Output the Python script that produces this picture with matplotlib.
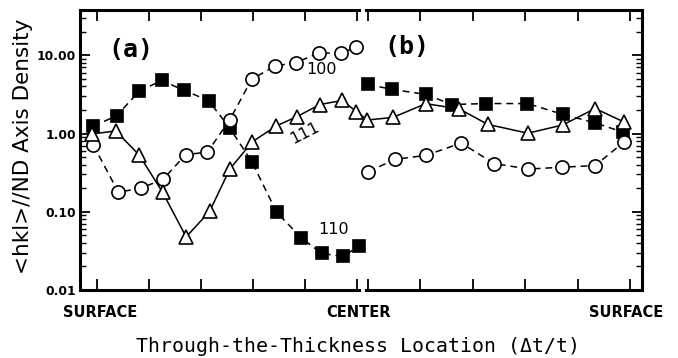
import matplotlib
matplotlib.use("Agg")
import matplotlib.pyplot as plt
from matplotlib.ticker import LogLocator, NullFormatter, FixedLocator
from matplotlib.lines import Line2D
import matplotlib.transforms as mtrans

# ---- data (x in through-thickness tick units; left panel (a), right panel (b)) ----
x_sq_a = [-0.06, 0.39, 0.82, 1.25, 1.68, 2.15, 2.56, 2.98, 3.46, 3.93, 4.32, 4.74, 5.04]
sq_a = [1.24, 1.70, 3.48, 4.77, 3.57, 2.64, 1.17, 0.437, 0.098, 0.0466, 0.0293, 0.0269, 0.0367]
x_tri_a = [-0.08, 0.37, 0.82, 1.27, 1.72, 2.17, 2.56, 2.99, 3.45, 3.84, 4.29, 4.71, 4.99]
tri_a = [0.99, 1.08, 0.53, 0.177, 0.0477, 0.101, 0.353, 0.785, 1.25, 1.64, 2.35, 2.65, 1.91]
x_circ_a = [-0.06, 0.42, 0.85, 1.28, 1.71, 2.13, 2.56, 2.98, 3.43, 3.82, 4.27, 4.69, 4.98]
circ_a = [0.71, 0.178, 0.20, 0.261, 0.537, 0.58, 1.51, 4.97, 7.31, 8.06, 10.7, 10.7, 12.6]

x_sq_b = [5.21, 5.67, 6.32, 6.82, 7.48, 8.27, 8.95, 9.57, 10.11]
sq_b = [4.25, 3.67, 3.17, 2.35, 2.42, 2.42, 1.76, 1.37, 1.04]
x_tri_b = [5.20, 5.69, 6.32, 6.96, 7.51, 8.28, 8.95, 9.57, 10.13]
tri_b = [1.49, 1.61, 2.41, 2.07, 1.31, 1.01, 1.29, 2.09, 1.40]
x_circ_b = [5.22, 5.73, 6.32, 7.00, 7.63, 8.29, 8.93, 9.57, 10.13]
circ_b = [0.327, 0.468, 0.526, 0.756, 0.414, 0.352, 0.371, 0.390, 0.785]

xticks_a = [0, 1, 2, 3, 4, 5]
xticks_b = [5.205, 6.213, 7.221, 8.229, 9.237, 10.245]
yticks = [0.01, 0.1, 1, 10]
ytick_labels = ["0.01", "0.10", "1.00", "10.00"]
loc_labels = ["SURFACE", "CENTER", "SURFACE"]
loc_x = [0.07, 5.03, 10.17]
series_labels = ["100", "111", "110"]

# ---- figure ----
W, H = 678, 358
fig = plt.figure(figsize=(W / 100, H / 100), dpi=100)
ax = fig.add_axes([80 / W, 1 - 290 / H, (641.7 - 80) / W, 280 / H])
ax.set_yscale("log")
ax.set_ylim(0.01, 38)
ax.set_xlim(-0.317, 10.464)

lw = 1.1
ms_kw = dict(markeredgecolor="black", markeredgewidth=1.2, clip_on=False)
dash = (4.5, 3.2)

# squares (110)
for xs, ys in [(x_sq_a, sq_a), (x_sq_b, sq_b)]:
    ax.plot(xs, ys, color="black", lw=lw, dashes=dash, marker="s", ms=8.8,
            markerfacecolor="black", zorder=3, **ms_kw)
# circles (100)
for xs, ys in [(x_circ_a, circ_a), (x_circ_b, circ_b)]:
    ax.plot(xs, ys, color="black", lw=lw, dashes=dash, marker="o", ms=9.5,
            markerfacecolor="white", zorder=3, **ms_kw)
# triangles (111), continuous across the break
ax.plot(x_tri_a + x_tri_b, tri_a + tri_b, color="black", lw=lw, ls="-",
        marker="^", ms=9.5, markerfacecolor="white", zorder=4, **ms_kw)

# ---- axes styling ----
for side in ["left", "right"]:
    ax.spines[side].set_linewidth(2.2)
for side in ["top", "bottom"]:
    ax.spines[side].set_visible(False)
blend = mtrans.blended_transform_factory(ax.transData, ax.transAxes)
for y in (0, 1):
    for x0, x1 in [(-0.317, 5.03), (5.17, 10.464)]:
        ax.add_line(Line2D([x0, x1], [y, y], transform=blend, color="black",
                           lw=2.2, clip_on=False, solid_capstyle="projecting"))

ax.xaxis.set_major_locator(FixedLocator(xticks_a + xticks_b))
ax.set_xticklabels([])
ax.tick_params(axis="x", which="major", direction="in", length=8, width=1.3,
               top=True, bottom=True)
ax.yaxis.set_major_locator(FixedLocator(yticks))
ax.set_yticklabels(ytick_labels, fontfamily="DejaVu Sans", fontweight="bold",
                   fontsize=8.8)
ax.yaxis.set_minor_locator(LogLocator(base=10, subs=range(2, 10)))
ax.yaxis.set_minor_formatter(NullFormatter())
ax.tick_params(axis="y", which="major", direction="in", length=7, width=1.3,
               left=True, right=True, pad=3)
ax.tick_params(axis="y", which="minor", direction="in", length=4, width=1.0,
               left=True, right=True)

# location labels
for lx, lab in zip(loc_x, loc_labels):
    ax.text(lx, -0.082, lab, transform=blend, ha="center", va="center",
            fontsize=10.5, fontweight="bold", family="DejaVu Sans")

# axis titles
fig.text(357.5 / W, 1 - 352 / H, "Through-the-Thickness Location (\u0394t/t)",
         ha="center", va="baseline", fontsize=14.3, family="DejaVu Sans Mono")
fig.text(23 / W, 1 - 146.5 / H, "<hkl>//ND Axis Density", rotation=90,
         ha="center", va="center", fontsize=15.5, family="DejaVu Sans")

# panel labels
fig.text(131 / W, 1 - 50 / H, "(a)", ha="center", va="center", fontsize=18,
         fontweight="bold", family="DejaVu Sans Mono")
fig.text(406.5 / W, 1 - 47 / H, "(b)", ha="center", va="center", fontsize=18,
         fontweight="bold", family="DejaVu Sans Mono")

# series labels
fig.text(321 / W, 1 - 70 / H, series_labels[0], ha="center", va="center",
         fontsize=11.5, family="DejaVu Sans")
fig.text(305 / W, 1 - 133 / H, series_labels[1], ha="center", va="center",
         fontsize=11.5, family="DejaVu Sans", rotation=27)
fig.text(333.5 / W, 1 - 229 / H, series_labels[2], ha="center", va="center",
         fontsize=11.5, family="DejaVu Sans")

fig.savefig("out.png", dpi=100)
